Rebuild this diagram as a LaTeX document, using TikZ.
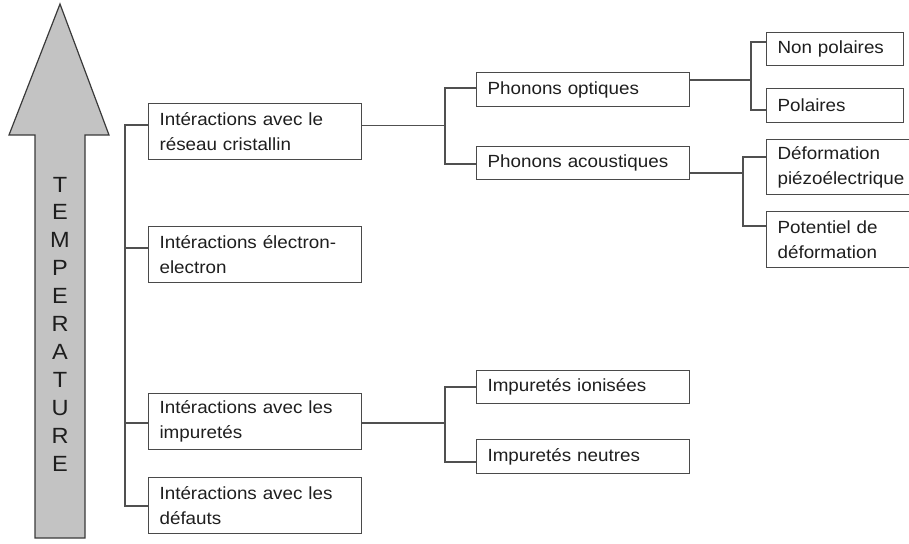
\documentclass[tikz,border=0pt]{standalone}
\usepackage{fontspec}
\setmainfont{Liberation Sans}[FakeStretch=1.07]
\usetikzlibrary{calc}
\definecolor{boxc}{HTML}{4A4A4A}
\definecolor{linec}{HTML}{505050}
\definecolor{txt}{HTML}{1E1E1E}
\definecolor{arrfill}{HTML}{C3C3C3}
\definecolor{arrline}{HTML}{3A3A3A}
\begin{document}
\begin{tikzpicture}[x=0.75pt,y=-0.75pt,
  box/.style={draw=boxc, line width=0.85pt, anchor=north west, inner xsep=8.25pt, inner ysep=0pt,
    align=left, text=txt, font=\fontsize{13.2pt}{18.75pt}\selectfont},
  wbox/.style={box, text width=143.25pt},
  conn/.style={draw=linec, line width=0.85pt},
  tletter/.style={anchor=base, inner sep=0pt, text=txt, font=\fontsize{16.5pt}{16.5pt}\selectfont}]
\useasboundingbox (0,0) rectangle (909,543);
\clip (0,0) rectangle (909,543);

% temperature arrow
\draw[fill=arrfill, draw=arrline, line width=0.9pt, line join=miter]
  (60,4) -- (109,135) -- (85,135) -- (85,538) -- (35,538) -- (35,135) -- (9,135) -- cycle;
\foreach \l [count=\i] in {T,E,M,P,E,R,A,T,U,R,E}
  \node[tletter] (t\i) at (60,{192+27.9*(\i-1)}) {\l};

% first level
\node[wbox, minimum height=42pt] (b1) at (148,103) {Intéractions avec le\\réseau cristallin};
\node[wbox, minimum height=42pt] (b2) at (148,226) {Intéractions électron-\\electron};
\node[wbox, minimum height=42pt] (b3) at (148,393) {Intéractions avec les\\impuretés};
\node[wbox, minimum height=42pt] (b4) at (148,477) {Intéractions avec les\\défauts};

% second level
\node[wbox, minimum height=25.5pt] (po) at (476,72) {Phonons optiques};
\node[wbox, minimum height=24.75pt] (pa) at (476,146) {Phonons acoustiques};
\node[wbox, minimum height=24.75pt] (ion) at (476,370) {Impuretés ionisées};
\node[wbox, minimum height=25.5pt] (neu) at (476,439) {Impuretés neutres};

% third level
\node[box, text width=86.25pt, minimum height=24.75pt] (np) at (766,32) {Non polaires};
\node[box, text width=86.25pt, minimum height=25.5pt] (pol) at (766,88) {Polaires};
\node[box, text width=100pt, minimum height=41.25pt] (dp) at (766,139) {Déformation\\piézoélectrique};
\node[box, text width=100pt, minimum height=42pt] (pdd) at (766,211) {Potentiel de\\déformation};

% left bracket
\coordinate (l1) at (125,125);
\coordinate (l2) at (125,248);
\coordinate (l3) at (125,423);
\coordinate (l4) at (125,506);
\draw[conn] (l1 -| b1.west) -- (l1) -- (l4) -- (l4 -| b4.west);
\draw[conn] (l2) -- (l2 -| b2.west);
\draw[conn] (l3) -- (l3 -| b3.west);

% lattice -> phonons
\coordinate (r1) at (445,125.7);
\coordinate (r1a) at (445,88);
\coordinate (r1b) at (445,164);
\draw[conn] (r1 -| b1.east) -- (r1);
\draw[conn] (r1a -| po.west) -- (r1a) -- (r1b) -- (r1b -| pa.west);

% optical phonons
\coordinate (p1) at (751,80);
\coordinate (p1a) at (751,42);
\coordinate (p1b) at (751,110);
\draw[conn] (p1 -| po.east) -- (p1);
\draw[conn] (p1a -| np.west) -- (p1a) -- (p1b) -- (p1b -| pol.west);

% acoustic phonons
\coordinate (p2) at (743,173);
\coordinate (p2a) at (743,157);
\coordinate (p2b) at (743,226);
\draw[conn] (p2 -| pa.east) -- (p2);
\draw[conn] (p2a -| dp.west) -- (p2a) -- (p2b) -- (p2b -| pdd.west);

% impurities
\coordinate (r3) at (445,423);
\coordinate (r3a) at (445,387);
\coordinate (r3b) at (445,462);
\draw[conn] (r3 -| b3.east) -- (r3);
\draw[conn] (r3a -| ion.west) -- (r3a) -- (r3b) -- (r3b -| neu.west);
\end{tikzpicture}
\end{document}
